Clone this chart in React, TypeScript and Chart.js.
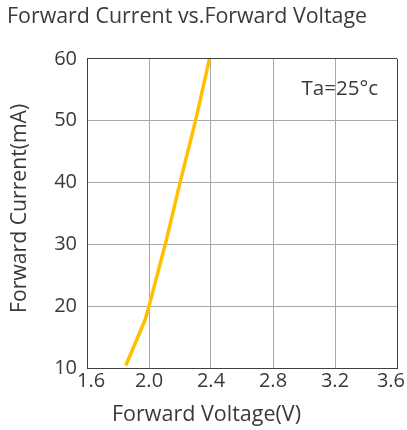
import React, { useEffect, useRef } from "react";
import { Chart, registerables } from "chart.js";

Chart.register(...registerables);

const voltage = [1.85, 1.975, 2.0, 2.11, 2.2, 2.3, 2.39];
const current = [10.4, 17.8, 20, 30.5, 40, 50, 60];
const xTicks = [1.6, 2.0, 2.4, 2.8, 3.2, 3.6];
const yTicks = [10, 20, 30, 40, 50, 60];
const titleText = "Forward Current vs.Forward Voltage";
const xTitle = "Forward Voltage(V)";
const yTitle = "Forward Current(mA)";
const noteText = "Ta=25°c";

const FONT = "'Open Sans', 'Noto Sans', sans-serif";
const TEXT = "#3a3a3a";
const GRID = "#a8a8a8";
const BORDER = "#404040";

const overlay = {
  id: "overlay",
  afterDraw(chart: any) {
    const ctx = chart.ctx;
    const area = chart.chartArea;
    const xs = chart.scales.x;
    ctx.save();
    ctx.fillStyle = TEXT;
    ctx.font = `20px ${FONT}`;
    ctx.textBaseline = "middle";
    ctx.textAlign = "center";
    for (const v of xTicks) {
      const label = v.toFixed(1);
      const w = ctx.measureText(label).width;
      const px = xs.getPixelForValue(v);
      const minC = area.left - 10 + w / 2;
      const maxC = chart.width - 2 - w / 2;
      const cx = Math.min(Math.max(px, minC), maxC);
      ctx.fillText(label, cx, area.bottom + 13);
    }
    ctx.textAlign = "right";
    ctx.textBaseline = "alphabetic";
    ctx.font = `20.5px ${FONT}`;
    ctx.fillText(noteText, area.right - 19, area.top + 36);

    // axis titles
    ctx.textAlign = "left";
    ctx.font = `21.5px ${FONT}`;
    ctx.fillText(xTitle, area.left + 25, chart.height - 9);
    ctx.save();
    ctx.translate(26, area.bottom - 55);
    ctx.rotate(-Math.PI / 2);
    ctx.font = `21.2px ${FONT}`;
    ctx.fillText(yTitle, 0, 0);
    ctx.restore();
    ctx.restore();
  },
};

export default function App() {
  const ref = useRef<HTMLCanvasElement>(null);
  useEffect(() => {
    const chart = new Chart(ref.current!, {
      type: "line",
      data: {
        datasets: [
          {
            data: voltage.map((v, i) => ({ x: v, y: current[i] })),
            borderColor: "#FFC000",
            borderWidth: 3.5,
            pointRadius: 0,
            tension: 0,
            fill: false,
          },
        ],
      },
      plugins: [overlay],
      options: {
        animation: false,
        responsive: false,
        devicePixelRatio: 1,
        layout: { padding: { left: 7, right: 10, top: 0, bottom: 0 } },
        plugins: {
          legend: { display: false },
          tooltip: { enabled: false },
          title: {
            display: true,
            text: titleText,
            align: "start",
            color: TEXT,
            font: { family: FONT, size: 21.4, weight: "normal", lineHeight: 1.2 },
            padding: { top: 4, bottom: 29.3 },
          },
        },
        scales: {
          x: {
            type: "linear",
            min: 1.6,
            max: 3.6,
            afterBuildTicks: (s: any) => {
              s.ticks = xTicks.map((v) => ({ value: v }));
            },
            ticks: { display: false },
            grid: {
              drawTicks: false,
              color: (c: any) => (c.tick && c.tick.value === 3.6 ? BORDER : GRID),
              lineWidth: 1,
            },
            border: { color: BORDER, width: 1 },
            title: { display: false, text: xTitle },
            afterFit: (s: any) => {
              s.height = 62;
              s.paddingLeft = 0;
              s.paddingRight = 0;
            },
          },
          y: {
            type: "linear",
            min: 10,
            max: 60,
            afterBuildTicks: (s: any) => {
              s.ticks = yTicks.map((v) => ({ value: v }));
            },
            ticks: {
              color: TEXT,
              font: { family: FONT, size: 20 },
              padding: 10,
            },
            grid: {
              drawTicks: false,
              color: (c: any) => (c.tick && c.tick.value === 60 ? BORDER : GRID),
              lineWidth: 1,
            },
            border: { color: BORDER, width: 1 },
            title: { display: false, text: yTitle },
            afterFit: (s: any) => {
              s.width = 80;
              s.paddingTop = 0;
              s.paddingBottom = 0;
            },
          },
        },
      },
    });
    return () => chart.destroy();
  }, []);
  return (
    <div style={{ position: "absolute", left: 0, top: 0, width: 407, height: 430 }}>
      <canvas ref={ref} width={407} height={430} style={{ width: 407, height: 430 }} />
    </div>
  );
}
